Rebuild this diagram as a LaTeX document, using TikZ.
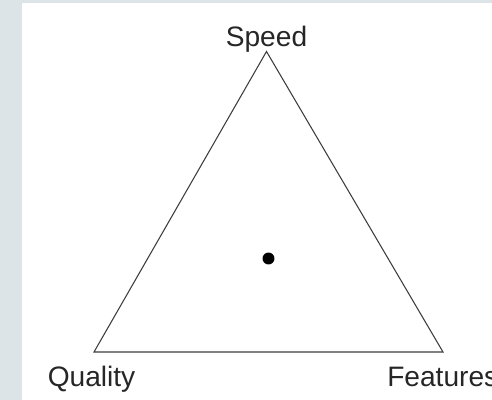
\documentclass[tikz,border=0pt]{standalone}
\usepackage{fontspec}
\setmainfont{Liberation Sans}
\usepackage{xcolor}
\usepackage{tikz}
\usetikzlibrary{positioning, calc}

\definecolor{frame}{RGB}{221,228,231}
\definecolor{edge}{RGB}{60,60,60}

\begin{document}
\begin{tikzpicture}[
  x=0.025cm, y=-0.025cm,
  font=\fontsize{20}{24}\selectfont,
  lbl/.style={inner sep=0pt, anchor=base west, text=black!85},
  side/.style={draw=edge, line width=0.75pt, line join=miter},
  centre/.style={circle, fill=black, inner sep=0pt, minimum size=8.5pt},
]
  \clip (0,0) rectangle (492,400);
  % background with the grey frame on the left and top
  \fill[frame] (0,0) rectangle (492,400);
  \fill[white] (22,3) rectangle (492,400);

  \coordinate (top) at (266.5,51.5);
  \coordinate (left) at (94,352);
  \coordinate (right) at (443,352);

  \draw[side] (top) -- (left) -- (right) -- cycle;

  \node[centre] (mid) at (268.5,258.5) {};

  \node[lbl, anchor=base] (speed) at (266.5,46.5) {Speed};
  \node[lbl] (quality) at (47.5,386) {Quality};
  \node[lbl] (features) at (387,386) {Features};
\end{tikzpicture}
\end{document}
